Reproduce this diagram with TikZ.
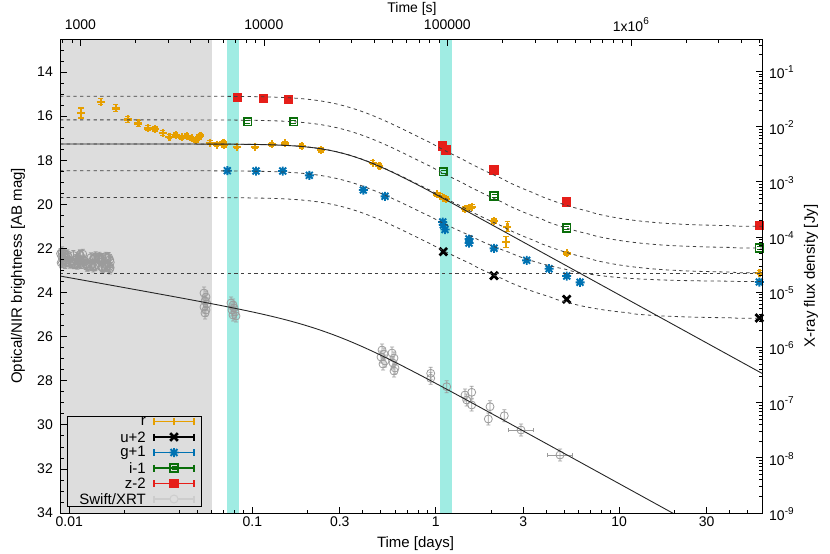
\documentclass[tikz,border=0pt]{standalone}
\usepackage{fontspec}
\setmainfont{Liberation Sans}
\definecolor{cr}{RGB}{230,159,0}
\definecolor{cg}{RGB}{0,114,178}
\definecolor{ci}{RGB}{10,110,10}
\definecolor{cz}{RGB}{230,30,25}
\definecolor{cx}{RGB}{155,155,155}
\definecolor{cxl}{RGB}{205,205,205}
\definecolor{grayreg}{RGB}{221,221,221}
\definecolor{cyanb}{RGB}{160,236,227}
\pgfmathdeclarefunction{spl}{1}{\pgfmathparse{max(#1,0)+log10(1+exp(-2.302585*min(abs(#1),3)))}}
\pgfmathdeclarefunction{Dr}{1}{\pgfmathparse{33*spl((#1-345)/60)}}
\pgfmathdeclarefunction{band}{3}{\pgfmathparse{#2-55.125*log10(exp(-0.04177*Dr(#1))+exp(-0.04177*(#3-#2)))}}
\newcommand\RP[3]{%
 \draw[cr,line width=1.3pt] (#1,#2-#3)--(#1,#2+#3) (#1-2.7,#2-#3)--(#1+2.7,#2-#3) (#1-2.7,#2+#3)--(#1+2.7,#2+#3);
 \draw[cr,line width=2.4pt] (#1-4,#2)--(#1+4,#2) (#1,#2-4)--(#1,#2+4);}
\newcommand\GP[2]{\draw[cg,line width=1.9pt] (#1-4.5,#2)--(#1+4.5,#2) (#1,#2-4.5)--(#1,#2+4.5) (#1-3.4,#2-3.4)--(#1+3.4,#2+3.4) (#1-3.4,#2+3.4)--(#1+3.4,#2-3.4);}
\newcommand\UP[2]{\draw[black,line width=2.8pt] (#1-3.8,#2-3.8)--(#1+3.8,#2+3.8) (#1-3.8,#2+3.8)--(#1+3.8,#2-3.8);}
\newcommand\IP[2]{\draw[ci,line width=1.8pt] (#1-3.8,#2-3.8) rectangle (#1+3.8,#2+3.8); \draw[ci,line width=0.9pt] (#1-2.5,#2-1.3)--(#1+2.5,#2-1.3) (#1-2.5,#2+1.3)--(#1+2.5,#2+1.3);}
\newcommand\ZP[2]{\fill[cz] (#1-4.7,#2-4.7) rectangle (#1+4.7,#2+4.7);}
\newcommand\XP[3]{\draw[cx,line width=0.8pt] (#1,#2-#3)--(#1,#2+#3) (#1-2,#2-#3)--(#1+2,#2-#3) (#1-2,#2+#3)--(#1+2,#2+#3) (#1,#2) circle[radius=4];}
\newcommand\XPX[4]{\XP{#1}{#2}{#3}\draw[cx,line width=0.8pt] (#1-#4,#2)--(#1+#4,#2) (#1-#4,#2-2)--(#1-#4,#2+2) (#1+#4,#2-2)--(#1+#4,#2+2);}
\tikzset{
 dcurve/.style={draw=black!75, line width=0.8pt, dash pattern=on 3.3pt off 3.4pt},
 scurve/.style={draw=black!85, line width=0.9pt},
 tk/.style={line width=0.7pt},
 lab/.style={inner sep=0pt},
 big/.style={inner sep=0pt,font=\fontsize{15}{17}\selectfont},
}
\begin{document}
\begin{tikzpicture}[x=1pt,y=-1pt,font=\fontsize{14}{16}\selectfont]
\useasboundingbox (0,0) rectangle (830,554);
% shaded regions
\fill[grayreg] (60,39) rectangle (211.7,513);
\fill[cyanb] (227,39) rectangle (239,513);
\fill[cyanb] (440,39) rectangle (452,513);
% X-ray data
\pgfmathsetseed{12}
\foreach \i in {1,...,70}{
 \pgfmathsetmacro\qx{60+52*rnd}
 \pgfmathsetmacro\qy{251+0.13*(\qx-60)+12*rnd}
 \XP{\qx}{\qy}{5}
}
\foreach \px/\py in {204/293,206/297,205/301,207/304,204/307,206/310,205/313,
 231/303,233/305,234/308,232/310,235/312,233/315,236/316,
 382/350,384/354,381/357,385/361,383/364,392/353,394/358,393/363,395/368,394/371,
 430.7/373.3,430.7/378.3,446.7/386.7,465/395,466.7/400,471.7/392.3,471.7/405,490/406.7,488.3/419,504.3/415.7}
 {\XP{\px}{\py}{6}}
\XPX{521}{430}{6}{12.5}
\XPX{560}{455}{6}{12.5}
% r data
\foreach \px/\py/\pe in {81/113/5,100.7/101.7/3,115.7/108.3/3.5,127.7/119.3/3,138.3/123.3/3,148/128.3/2.5,155/129/2,
 162.7/132.7/2.5,169.3/136.7/2,175.7/135/2,181.7/137.3/2,186.7/136/2,191.7/138.3/2,196/140/2,200.3/135.5/2,
 210/142.7/2,216.7/144.5/2,223.3/142.5/2,224/145/2,236.7/146.7/2,255/146.7/2,271.7/144.3/2,285/143.3/2,
 301.7/146/2,321/150/2,372.7/162.7/2,379.3/166/2,436.7/194.3/2,440/195.7/2,443.3/197.7/2,446/199/2,
 465/209/2,469/207.5/2,472/206.7/2,494/221/2,507.3/226.7/5,506/241.7/5.5,566.7/253.3/2,759.3/272.7/2}
 {\RP{\px}{\py}{\pe}}
% g data
\foreach \px/\py in {227.3/170.7,256/171,282.7/171,309.3/175.3,363.3/190,385/196.3,442.7/222,443.3/225,445/229.5,
 469/239,469/243,494/248.3,526.7/260.3,549/268.7,566.7/276,580/282.3,759.3/282}
 {\GP{\px}{\py}}
% u data
\foreach \px/\py in {443.3/251.7,494/275.7,566.7/299.3,759.3/318}{\UP{\px}{\py}}
% i data
\foreach \px/\py in {247.7/121.7,293.7/121.7,443.3/171.7,494/196,566.7/228,759.3/248}{\IP{\px}{\py}}
% z data
\foreach \px/\py in {237.7/97.7,263.7/98.3,288.7/99.3,442.7/146,446/150,494/170,566.7/202,759.3/225.7}{\ZP{\px}{\py}}
% model curves
\begin{scope}
\clip (60,39) rectangle (762,513);
\draw[dcurve] (60,273.3) -- (762,273.3);
\foreach \a/\b in {96.3/226.7,120/248.3,144/273,171/281.7,197.7/318.3}
 \draw[dcurve] plot[variable=\t,domain=60:762,samples=90] (\t,{band(\t,\a,\b)});
\draw[scurve] plot[variable=\t,domain=60:762,samples=90] (\t,{144+Dr(\t)});
\draw[scurve] plot[variable=\t,domain=60:700,samples=90] (\t,{276+0.18*(\t-60)+29.6*spl((\t-330)/80)});
\end{scope}
% ticks (inward)
\begin{scope}
\clip (60,39) rectangle (762,513);
\foreach \m in {14,16,...,34} \draw[tk] (60,{513-(34-\m)*22.05}) -- ++(6.5,0);
\foreach \m in {13,13.5,...,33.5} \draw[tk] (60,{513-(34-\m)*22.05}) -- ++(3.5,0);
\foreach \k in {1,...,9} \draw[tk] (762,{513-55.2*(9-\k)}) -- ++(-6.5,0);
\foreach \d in {-9,...,-1} \foreach \n in {2,...,9} \draw[tk] (762,{513-55.2*(\d+9+log10(\n))}) -- ++(-3.5,0);
\foreach \dd in {0.01,0.1,0.3,1,3,10,30} \draw[tk] ({435.7+183.5*log10(\dd)},513) -- ++(0,-6.5);
\foreach \d in {-3,...,1} \foreach \n in {2,4,5,6,7,8,9} \draw[tk] ({435.7+183.5*(\d+log10(\n))},513) -- ++(0,-3.5);
\foreach \k in {3,...,6} \draw[tk] ({435.7+183.5*(\k-4.93651)},39) -- ++(0,6.5);
\foreach \k in {2,...,6} \foreach \n in {2,...,9} \draw[tk] ({435.7+183.5*(\k+log10(\n)-4.93651)},39) -- ++(0,3.5);
\end{scope}
\draw[line width=0.9pt] (60,39) rectangle (762,513);
% tick labels
\foreach \m in {14,16,...,34} \node[lab,anchor=east] at (53,{513-(34-\m)*22.05}) {\m};
\foreach \k in {1,...,9} \node[lab,anchor=west] at (769,{513-55.2*(9-\k)+1}) {10\raisebox{0.45em}{\fontsize{10}{10}\selectfont -\k}};
\foreach \dd in {0.01,0.1,0.3,1,3,10,30} \node[lab] at ({435.7+183.5*log10(\dd)},521.5) {\dd};
\node[lab] at (80.35,24.5) {1000};
\node[lab] at (263.85,24.5) {10000};
\node[lab] at (447.35,24.5) {100000};
\node[lab] at (630.85,24.5) {1x10\raisebox{0.45em}{\fontsize{10}{10}\selectfont 6}};
% axis titles
\node[lab] (tops) at (412,8.5) {Time [s]};
\node[big] (bots) at (415.5,544) {Time [days]};
\node[big,rotate=90] (ylab) at (18,276) {Optical/NIR brightness [AB mag]};
\node[big,rotate=90] (y2lab) at (811,276) {X-ray flux density [Jy]};
% legend
\draw[line width=0.9pt] (67.7,416) rectangle (201.7,506.7);
\foreach \ly/\lt in {421.5/r,437/u+2,452.5/g+1,468/i-1,483.5/z-2,499/{Swift/XRT}}
 \node[big,anchor=east] at (146,\ly) {\lt};
\foreach \ly/\lc in {421.5/cr,437/black,452.5/cg,468/ci,483.5/cz,499/cxl}
 \draw[\lc,line width=1.5pt] (154,\ly)--(194,\ly) (154,\ly-3.5)--(154,\ly+3.5) (194,\ly-3.5)--(194,\ly+3.5);
\draw[cr,line width=1.5pt] (174,418)--(174,425);
\UP{174}{437}
\GP{174}{452.5}
\IP{174}{468}
\ZP{174}{483.5}
\draw[cxl,fill=grayreg,line width=1pt] (174,499) circle[radius=4];
\end{tikzpicture}
\end{document}
